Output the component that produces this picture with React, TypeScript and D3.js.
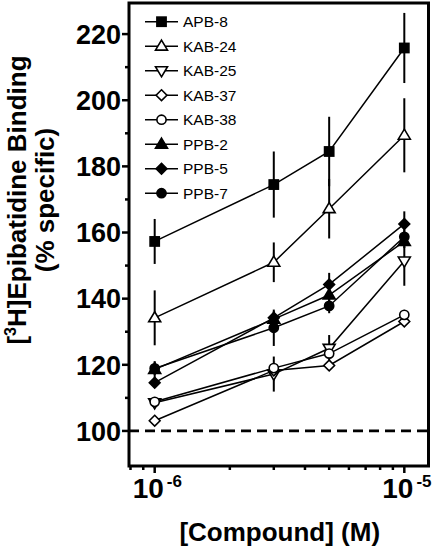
import React from "react";
import * as d3 from "d3";

const concentrations = [1e-6, 3e-6, 5e-6, 1e-5];
const seriesNames = ["APB-8", "KAB-24", "KAB-25", "KAB-37", "KAB-38", "PPB-2", "PPB-5", "PPB-7"];
const seriesShapes = ["square", "triangleUp", "triangleDown", "diamond", "circle", "triangleUp", "diamond", "circle"];
const seriesFilled = [true, false, false, false, false, true, true, true];
const apb8 = [157.3, 174.5, 184.5, 215.8];
const apb8Err = [6.8, 10, 10.5, 10.6];
const kab24 = [134.2, 151, 167.2, 189.4];
const kab24Err = [8.3, 6, 9, 11.2];
const kab25 = [108.5, 117.2, 125, 151.4];
const kab25Err = [1.5, 5.3, 4, 7.5];
const kab37 = [103.1, 118.3, 119.8, 133.1];
const kab37Err = [1, 1.5, 1, 1];
const kab38 = [108.8, 119, 123.4, 135.1];
const kab38Err = [1, 1.5, 1.5, 1.5];
const ppb2 = [118.6, 133.8, 141.1, 157.3];
const ppb2Err = [2.5, 2, 2, 2];
const ppb5 = [114.6, 134.2, 144.3, 162.6];
const ppb5Err = [1.5, 2, 3.5, 3.8];
const ppb7 = [118.9, 131.2, 137.8, 158.7];
const ppb7Err = [2, 5.5, 2.2, 2];
const seriesValues = [apb8, kab24, kab25, kab37, kab38, ppb2, ppb5, ppb7];
const seriesErrors = [apb8Err, kab24Err, kab25Err, kab37Err, kab38Err, ppb2Err, ppb5Err, ppb7Err];

const yMajorTicks = [100, 120, 140, 160, 180, 200, 220];
const yMinorTicks = [110, 130, 150, 170, 190, 210];
const xMajorTicks = [1e-6, 1e-5];
const xMajorExponents = ["-6", "-5"];
const xMinorTicks = [8e-7, 9e-7, 2e-6, 3e-6, 4e-6, 5e-6, 6e-6, 7e-6, 8e-6, 9e-6];
const baseline = 100;

const W = 433;
const H = 546;
const left = 129;
const right = 428.5;
const top = 3;
const bottom = 466;

const x = d3.scaleLog().domain([8e-7, 1.25e-5]).range([130.5, 428.5]);
const y = d3.scaleLinear().domain([89.4, 229.4]).range([bottom, top]);

const FONT = "'Liberation Sans', Arial, Helvetica, sans-serif";

function Marker({ shape, cx, cy, filled }: { shape: string; cx: number; cy: number; filled: boolean }) {
  const fill = filled ? "#000" : "#fff";
  const sw = 1.6;
  if (shape === "square") {
    const s = 4.6;
    return <rect x={cx - s} y={cy - s} width={2 * s} height={2 * s} fill={fill} stroke="#000" strokeWidth={sw} />;
  }
  if (shape === "circle") {
    return <circle cx={cx} cy={cy} r={4.6} fill={fill} stroke="#000" strokeWidth={sw} />;
  }
  if (shape === "diamond") {
    const s = 5.4;
    return (
      <path d={`M${cx},${cy - s}L${cx + s},${cy}L${cx},${cy + s}L${cx - s},${cy}Z`} fill={fill} stroke="#000" strokeWidth={sw} />
    );
  }
  if (shape === "triangleUp") {
    const h = 5.6;
    return (
      <path d={`M${cx},${cy - h - 0.5}L${cx + 6},${cy + h * 0.7}L${cx - 6},${cy + h * 0.7}Z`} fill={fill} stroke="#000" strokeWidth={sw} strokeLinejoin="miter" />
    );
  }
  const h = 5.6;
  return (
    <path d={`M${cx},${cy + h + 0.5}L${cx + 6},${cy - h * 0.7}L${cx - 6},${cy - h * 0.7}Z`} fill={fill} stroke="#000" strokeWidth={sw} />
  );
}

export default function App() {
  const line = d3
    .line<number>()
    .x((_, i) => x(concentrations[i]))
    .y((d) => y(d));

  const legendX = 145;
  const legendY0 = 21.7;
  const legendStep = 24.5;

  return (
    <svg
      width={W}
      height={H}
      viewBox={`0 0 ${W} ${H}`}
      style={{ position: "absolute", left: 0, top: 0, background: "#fff" }}
      fontFamily={FONT}
    >
      <rect x={0} y={0} width={W} height={H} fill="#fff" />
      {/* baseline dashed */}
      <line x1={left} x2={right} y1={y(baseline)} y2={y(baseline)} stroke="#000" strokeWidth={2.7} strokeDasharray="10,6" />

      {/* series lines */}
      {seriesValues.map((vals, si) => (
        <path key={"l" + si} d={line(vals) || ""} fill="none" stroke="#000" strokeWidth={1.5} />
      ))}
      {/* error bars */}
      {seriesValues.map((vals, si) =>
        vals.map((v, i) => (
          <line
            key={`e${si}-${i}`}
            x1={x(concentrations[i])}
            x2={x(concentrations[i])}
            y1={y(v - seriesErrors[si][i])}
            y2={y(v + seriesErrors[si][i])}
            stroke="#000"
            strokeWidth={2}
          />
        ))
      )}
      {/* markers */}
      {seriesValues.map((vals, si) =>
        vals.map((v, i) => (
          <Marker key={`m${si}-${i}`} shape={seriesShapes[si]} cx={x(concentrations[i])} cy={y(v)} filled={seriesFilled[si]} />
        ))
      )}

      {/* frame */}
      <rect x={left} y={top} width={right - left} height={bottom - top} fill="none" stroke="#000" strokeWidth={3} />

      {/* y ticks */}
      {yMajorTicks.map((t) => (
        <g key={"ym" + t}>
          <line x1={left - 7} x2={left} y1={y(t)} y2={y(t)} stroke="#000" strokeWidth={2.5} />
          <text x={left - 8} y={y(t)} dy="0.36em" textAnchor="end" fontSize={27} fontWeight="bold">
            {t}
          </text>
        </g>
      ))}
      {yMinorTicks.map((t) => (
        <line key={"yn" + t} x1={left - 4} x2={left} y1={y(t)} y2={y(t)} stroke="#000" strokeWidth={2.5} />
      ))}

      {/* x ticks */}
      {xMajorTicks.map((t, i) => (
        <g key={"xm" + t}>
          <line x1={x(t)} x2={x(t)} y1={bottom} y2={bottom + 7} stroke="#000" strokeWidth={2.5} />
          <text x={x(t) - 22} y={498} fontSize={28} fontWeight="bold">
            10
            <tspan dx={3} dy={-11.5} fontSize={17}>
              {xMajorExponents[i]}
            </tspan>
          </text>
        </g>
      ))}
      {xMinorTicks.map((t) => (
        <line key={"xn" + t} x1={x(t)} x2={x(t)} y1={bottom} y2={bottom + 4} stroke="#000" strokeWidth={2.5} />
      ))}

      {/* axis titles */}
      <text x={(left + right) / 2 + 1} y={541} textAnchor="middle" fontSize={26} fontWeight="bold">
        [Compound] (M)
      </text>
      <g transform="translate(26,200) rotate(-90)">
        <text x={0} y={0} textAnchor="middle" fontSize={26} fontWeight="bold">
          [<tspan fontSize={16} dy={-10}>3</tspan>
          <tspan dy={10}>H]Epibatidine Binding</tspan>
        </text>
      </g>
      <g transform="translate(54,200) rotate(-90)">
        <text x={0} y={0} textAnchor="middle" fontSize={26} fontWeight="bold">
          (% specific)
        </text>
      </g>

      {/* legend */}
      {seriesNames.map((name, i) => {
        const ly = legendY0 + i * legendStep;
        return (
          <g key={"lg" + name}>
            <line x1={legendX} x2={legendX + 33} y1={ly} y2={ly} stroke="#000" strokeWidth={1.5} />
            <Marker shape={seriesShapes[i]} cx={legendX + 16.5} cy={ly} filled={seriesFilled[i]} />
            <text x={legendX + 38} y={ly} dy="0.36em" fontSize={15.5}>
              {name}
            </text>
          </g>
        );
      })}
    </svg>
  );
}
